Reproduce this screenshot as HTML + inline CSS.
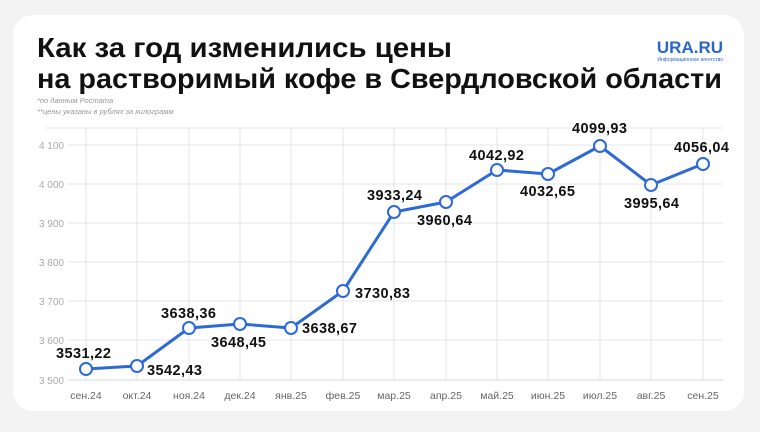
<!DOCTYPE html>
<html><head><meta charset="utf-8"><style>
body{margin:0;width:760px;height:427px;background:#f3f3f3;overflow:hidden;font-family:"Liberation Sans",sans-serif}
</style></head><body>
<svg width="760" height="427" xmlns="http://www.w3.org/2000/svg" font-family="Liberation Sans, DejaVu Sans, sans-serif">
<rect x="13" y="15" width="731" height="396" rx="20" fill="#fff"/>
<text x="37" y="57" font-size="28" font-weight="bold" fill="#111" textLength="415" lengthAdjust="spacingAndGlyphs">Как за год изменились цены</text>
<text x="37" y="88" font-size="28" font-weight="bold" fill="#111" textLength="685" lengthAdjust="spacingAndGlyphs">на растворимый кофе в Свердловской области</text>
<text x="723" y="53" font-size="17" font-weight="bold" fill="#2a66c9" text-anchor="end">URA.RU</text>
<text x="723" y="61" font-size="5" fill="#2a66c9" text-anchor="end">Информационное агентство</text>
<text x="37" y="103" font-size="7.5" font-style="italic" fill="#999">*по данным Ростата</text>
<text x="37" y="114" font-size="7.5" font-style="italic" fill="#999">**цены указаны в рублях за килограмм</text>
<g stroke="#e4e4e4" stroke-width="1">
<line x1="68" y1="145" x2="723" y2="145"/><line x1="68" y1="184" x2="723" y2="184"/>
<line x1="68" y1="223" x2="723" y2="223"/><line x1="68" y1="262" x2="723" y2="262"/>
<line x1="68" y1="301" x2="723" y2="301"/><line x1="68" y1="340" x2="723" y2="340"/>
<line x1="86" y1="128" x2="86" y2="380"/><line x1="137" y1="128" x2="137" y2="380"/>
<line x1="189" y1="128" x2="189" y2="380"/><line x1="240" y1="128" x2="240" y2="380"/>
<line x1="291" y1="128" x2="291" y2="380"/><line x1="343" y1="128" x2="343" y2="380"/>
<line x1="394" y1="128" x2="394" y2="380"/><line x1="446" y1="128" x2="446" y2="380"/>
<line x1="497" y1="128" x2="497" y2="380"/><line x1="548" y1="128" x2="548" y2="380"/>
<line x1="600" y1="128" x2="600" y2="380"/><line x1="651" y1="128" x2="651" y2="380"/>
<line x1="703" y1="128" x2="703" y2="380"/>
<line x1="45" y1="128" x2="723" y2="128"/>
</g>
<line x1="68" y1="380" x2="723" y2="380" stroke="#d8d8d8"/>
<g font-size="10" fill="#aaa" text-anchor="end">
<text x="64" y="149">4 100</text><text x="64" y="188">4 000</text><text x="64" y="227">3 900</text>
<text x="64" y="266">3 800</text><text x="64" y="305">3 700</text><text x="64" y="344">3 600</text><text x="64" y="384">3 500</text>
</g>
<g font-size="10.5" fill="#666" text-anchor="middle">
<text x="86" y="399">сен.24</text><text x="137" y="399">окт.24</text><text x="189" y="399">ноя.24</text>
<text x="240" y="399">дек.24</text><text x="291" y="399">янв.25</text><text x="343" y="399">фев.25</text>
<text x="394" y="399">мар.25</text><text x="446" y="399">апр.25</text><text x="497" y="399">май.25</text>
<text x="548" y="399">июн.25</text><text x="600" y="399">июл.25</text><text x="651" y="399">авг.25</text>
<text x="703" y="399">сен.25</text>
</g>
<polyline fill="none" stroke="#2e6ad6" stroke-width="3" stroke-linejoin="round" points="86,369 137,366 189,328 240,324 291,328 343,291 394,212 446,202 497,170 548,174 600,146 651,185 703,164"/>
<g fill="#fff" stroke="#2e6ad6" stroke-width="2">
<circle cx="86" cy="369" r="6"/><circle cx="137" cy="366" r="6"/><circle cx="189" cy="328" r="6"/>
<circle cx="240" cy="324" r="6"/><circle cx="291" cy="328" r="6"/><circle cx="343" cy="291" r="6"/>
<circle cx="394" cy="212" r="6"/><circle cx="446" cy="202" r="6"/><circle cx="497" cy="170" r="6"/>
<circle cx="548" cy="174" r="6"/><circle cx="600" cy="146" r="6"/><circle cx="651" cy="185" r="6"/>
<circle cx="703" cy="164" r="6"/>
</g>
<g font-size="14.5" font-weight="bold" fill="#111" lengthAdjust="spacingAndGlyphs">
<text x="56" y="358" textLength="55">3531,22</text>
<text x="147" y="375" textLength="55">3542,43</text>
<text x="161" y="318" textLength="55">3638,36</text>
<text x="211" y="347" textLength="55">3648,45</text>
<text x="302" y="333" textLength="55">3638,67</text>
<text x="355" y="298" textLength="55">3730,83</text>
<text x="367" y="200" textLength="55">3933,24</text>
<text x="417" y="225" textLength="55">3960,64</text>
<text x="469" y="160" textLength="55">4042,92</text>
<text x="520" y="196" textLength="55">4032,65</text>
<text x="572" y="133" textLength="55">4099,93</text>
<text x="624" y="208" textLength="55">3995,64</text>
<text x="674" y="152" textLength="55">4056,04</text>
</g>
</svg>
</body></html>
